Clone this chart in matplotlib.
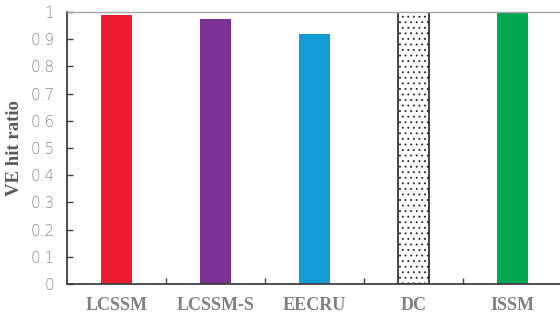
import matplotlib
matplotlib.use("Agg")
import matplotlib.pyplot as plt

methods = ["LCSSM", "LCSSM-S", "EECRU", "DC", "ISSM"]
hit_ratio = [0.988, 0.976, 0.918, 1.0, 0.999]
bar_colors = ["#ED1C2E", "#7B3294", "#139BD7", "white", "#00A651"]
yticks = [0, 0.1, 0.2, 0.3, 0.4, 0.5, 0.6, 0.7, 0.8, 0.9, 1]
ytick_labels = ["0", "0.1", "0.2", "0.3", "0.4", "0.5", "0.6", "0.7", "0.8", "0.9", "1"]

plt.rcParams["hatch.linewidth"] = 0.6
fig = plt.figure(figsize=(5.6, 3.2), dpi=100)
ax = fig.add_axes([67 / 560, 36 / 320, 495 / 560, 272 / 320])

x = range(len(methods))
bars = ax.bar(x, hit_ratio, width=0.31, color=bar_colors, edgecolor=bar_colors,
              linewidth=0, zorder=2)
dc = bars[3]
dc.set_edgecolor("#222222")
dc.set_linewidth(1.2)
dc.set_hatch("...")

ax.set_xlim(-0.5, len(methods) - 0.5)
ax.set_ylim(0, 1)
ax.set_yticks(yticks)
ax.set_yticklabels(ytick_labels, fontsize=11, color="#8C8C8C", family="DejaVu Sans")
for t in ax.get_yticklabels():
    t.set_fontweight("light")

ax.set_xticks(list(x))
ax.set_xticklabels(methods, fontsize=13, fontweight="bold", color="#7F7F7F",
                   family="Liberation Serif")
ax.set_xticks([i + 0.5 for i in range(len(methods) - 1)], minor=True)
ax.tick_params(axis="x", which="major", length=0, pad=9)
ax.tick_params(axis="x", which="minor", direction="in", length=4, width=1, color="#404040")
ax.tick_params(axis="y", direction="in", length=4, width=1, color="#404040", pad=9)

ax.set_ylabel("VE hit ratio", fontsize=13.5, fontweight="bold", color="#595959",
              family="Liberation Serif", labelpad=5)

for side in ["left", "bottom"]:
    ax.spines[side].set_color("#404040")
    ax.spines[side].set_linewidth(1.3)
ax.spines["top"].set_color("#A6A6A6")
ax.spines["top"].set_linewidth(1.0)
ax.spines["right"].set_visible(False)

fig.savefig("out.png", dpi=100)
